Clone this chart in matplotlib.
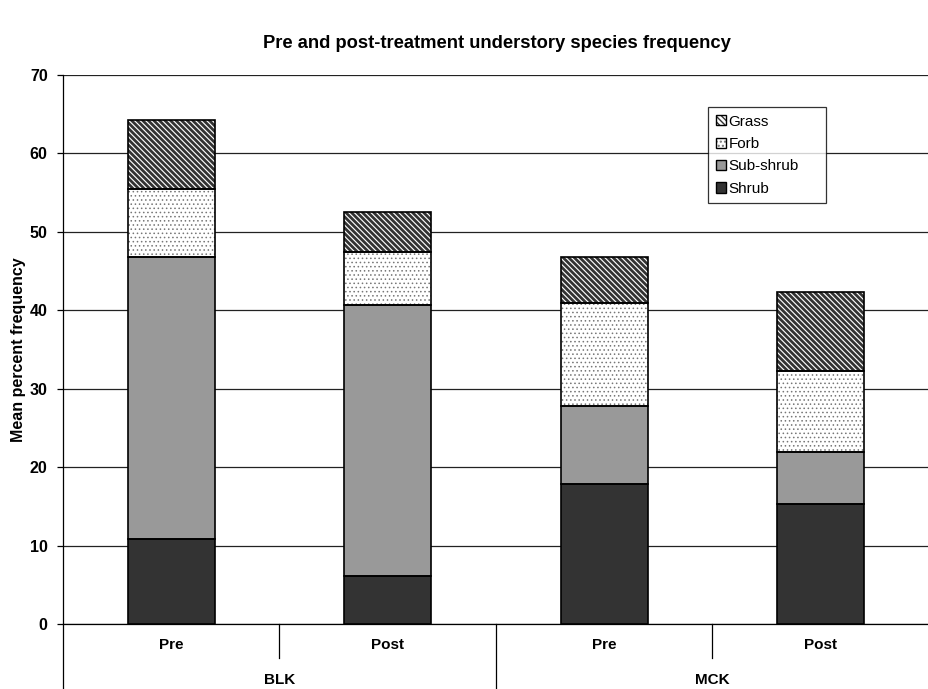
import matplotlib
matplotlib.use("Agg")
import matplotlib.pyplot as plt
from matplotlib.patches import Patch
from matplotlib.legend_handler import HandlerTuple
import numpy as np

plt.rcParams['font.family'] = ['Liberation Sans', 'DejaVu Sans']
plt.rcParams['hatch.linewidth'] = 1.0

sites = ["BLK", "MCK"]
periods = ["Pre", "Post", "Pre", "Post"]
shrub = [10.8, 6.1, 17.9, 15.3]
subshrub = [36.0, 34.6, 9.9, 6.6]
forb = [8.7, 6.7, 13.1, 10.4]
grass = [8.7, 5.1, 5.9, 10.0]

# name, values, face, hatch, hatch colour, hatch linewidth
series = [("Shrub", shrub, "#333333", None, "black", 1.0),
          ("Sub-shrub", subshrub, "#999999", None, "black", 1.0),
          ("Forb", forb, "white", "....", "#777777", 0.6),
          ("Grass", grass, "white", "\\" * 6, "#333333", 2.0)]


def set_hlw(p, lw):
    try:
        p.set_hatch_linewidth(lw)
    except Exception:
        pass


fig = plt.figure(figsize=(9.29, 6.89), dpi=100)
ax = fig.add_axes([63/929, 1-624/689, 1-63/929, (624-75)/689])

x = np.arange(len(periods))
bottom = np.zeros(len(x))
handles = []
for name, vals, color, hatch, hcol, hlw in series:
    bars = ax.bar(x, vals, width=0.4, bottom=bottom, color=color, hatch=hatch,
                  edgecolor=hcol, linewidth=0, zorder=3)
    for b in bars:
        set_hlw(b, hlw)
    ax.bar(x, vals, width=0.4, bottom=bottom, facecolor='none', edgecolor='black',
           linewidth=1.2, zorder=4)
    bottom += np.array(vals)
    hp = Patch(facecolor=color, hatch=hatch, edgecolor=hcol, linewidth=0)
    set_hlw(hp, hlw)
    op = Patch(facecolor='none', edgecolor='black', linewidth=1.0)
    handles.append((hp, op))

ax.set_xlim(-0.5, 3.5)
ax.set_ylim(0, 70)
ax.set_yticks(range(0, 71, 10))
ax.set_yticklabels([str(v) for v in range(0, 71, 10)], fontsize=11.5, fontweight='bold')
ax.yaxis.grid(True, color='#222222', linewidth=0.9, zorder=0)
ax.set_axisbelow(True)
ax.set_xticks([])
ax.tick_params(axis='y', length=4, width=0.9, pad=7)
for s in ['top', 'right']:
    ax.spines[s].set_visible(False)
ax.spines['left'].set_linewidth(0.9)
ax.spines['bottom'].set_linewidth(0.9)

ax.set_ylabel("Mean percent frequency", fontsize=11.5, fontweight='bold', labelpad=3)
fig.text(497/929, 1-43/689, "Pre and post-treatment understory species frequency",
         ha='center', va='center', fontsize=13.2, fontweight='bold')

trans = ax.get_xaxis_transform()
for xi, p in zip(x, periods):
    ax.text(xi, -0.038, p, transform=trans, ha='center', va='center',
            fontsize=11, fontweight='bold')
for xi, s in zip([0.5, 2.5], sites):
    ax.text(xi, -0.102, s, transform=trans, ha='center', va='center',
            fontsize=11, fontweight='bold')
# dividers
for xd in [0.5, 2.5]:
    ax.plot([xd, xd], [0, -0.062], transform=trans, color='black', lw=0.9, clip_on=False)
ax.plot([1.5, 1.5], [0, -0.2], transform=trans, color='black', lw=0.9, clip_on=False)
ax.plot([-0.5, -0.5], [0, -0.2], transform=trans, color='black', lw=0.9, clip_on=False)

x0 = (708-63)/866
y1 = (624-107)/549
w = (826-708)/866
h = (208-107)/549
leg = ax.legend(handles[::-1], [s[0] for s in series][::-1],
                handler_map={tuple: HandlerTuple(ndivide=1)},
                loc='upper left', bbox_to_anchor=(x0, y1 - h, w, h), mode='expand',
                fontsize=11, frameon=True, fancybox=False, edgecolor='black',
                handlelength=0.65, handleheight=0.65, handletextpad=0.2,
                labelspacing=0.55, borderpad=0.5, borderaxespad=0)
leg.get_frame().set_linewidth(0.9)
leg.set_zorder(10)
fig.savefig("out.png", dpi=100)
